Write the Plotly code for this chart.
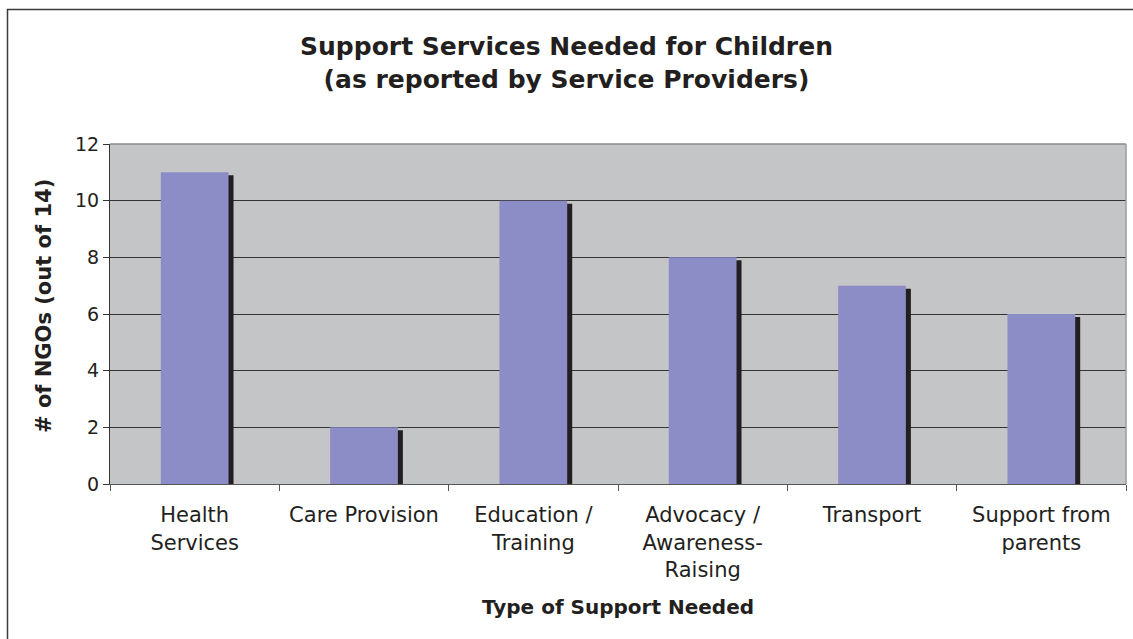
import plotly.graph_objects as go

# Survey results: number of NGOs (out of 14) naming each support service
categories = [
    "Health<br>Services",
    "Care Provision",
    "Education /<br>Training",
    "Advocacy /<br>Awareness-<br>Raising",
    "Transport",
    "Support from<br>parents",
]
ngo_counts = [11, 2, 10, 8, 7, 6]
y_ticks = [0, 2, 4, 6, 8, 10, 12]

W, H = 1133, 639
L, R, T, B = 110, 7, 144, 155
plot_w = W - L - R
plot_h = H - T - B

bar_width = 0.4
shadow_dx = 5 / (plot_w / len(categories))   # category units
shadow_dy = 3 / (plot_h / 12)                 # data units

fig = go.Figure()

# Dark drop shadow behind each bar
fig.add_trace(go.Bar(
    x=categories,
    y=[v - shadow_dy for v in ngo_counts],
    width=bar_width,
    offset=-bar_width / 2 + shadow_dx,
    marker=dict(color="#231f20", line=dict(width=0)),
    hoverinfo="skip",
    showlegend=False,
))

# Main bars
fig.add_trace(go.Bar(
    x=categories,
    y=ngo_counts,
    width=bar_width,
    offset=-bar_width / 2,
    marker=dict(color="#8c8cc6", line=dict(width=0)),
    showlegend=False,
))

font_family = "DejaVu Sans, Verdana, sans-serif"
ink = "#231f20"


def px_x(px):
    return (px - L) / plot_w


def px_y(py):
    return (H - B - py) / plot_h


fig.update_layout(
    width=W,
    height=H,
    margin=dict(l=L, r=R, t=T, b=B),
    paper_bgcolor="white",
    plot_bgcolor="#c4c5c7",
    barmode="overlay",
    font=dict(family=font_family, color=ink),
    title=dict(
        text="<b>Support Services Needed for Children<br>(as reported by Service Providers)</b>",
        x=0.5,
        xanchor="center",
        y=1 - 55 / H,
        yanchor="middle",
        font=dict(size=25, family=font_family, color=ink),
    ),
    xaxis=dict(
        type="category",
        range=[-0.5, len(categories) - 0.5],
        tickson="boundaries",
        ticks="outside",
        ticklen=6,
        tickcolor="#555",
        showline=True,
        linecolor="#555",
        linewidth=1,
        showgrid=False,
        ticklabelstandoff=12,
        tickfont=dict(size=21, family=font_family, color=ink),
    ),
    yaxis=dict(
        range=[0, 12],
        tickvals=y_ticks,
        ticks="outside",
        ticklen=6,
        tickcolor="#333",
        showline=True,
        linecolor="#333",
        linewidth=1,
        showgrid=True,
        gridcolor="#333",
        gridwidth=1,
        zeroline=False,
        tickfont=dict(size=19, family=font_family, color=ink),
    ),
    annotations=[
        dict(text="<b>Type of Support Needed</b>", xref="paper", yref="paper",
             x=px_x(618), y=px_y(607), xanchor="center", yanchor="middle",
             showarrow=False, font=dict(size=20, family=font_family, color=ink)),
        dict(text="<b># of NGOs (out of 14)</b>", xref="paper", yref="paper",
             x=px_x(44), y=px_y(306), xanchor="center", yanchor="middle",
             textangle=-90, showarrow=False,
             font=dict(size=21, family=font_family, color=ink)),
    ],
    shapes=[
        # light frame along the top and right of the plotting area
        dict(type="line", xref="paper", yref="paper", x0=0, x1=1, y0=1, y1=1,
             line=dict(color="#8a8a8a", width=1.5), layer="above"),
        dict(type="line", xref="paper", yref="paper", x0=1, x1=1, y0=0, y1=1,
             line=dict(color="#9a9a9a", width=1.5), layer="above"),
        # outer chart border
        dict(type="rect", xref="paper", yref="paper",
             x0=px_x(7.5), x1=px_x(W + 10), y0=px_y(H + 10), y1=px_y(9.5),
             line=dict(color="#3a3a3a", width=1.5), layer="below"),
    ],
)

fig.write_html("out.html")
